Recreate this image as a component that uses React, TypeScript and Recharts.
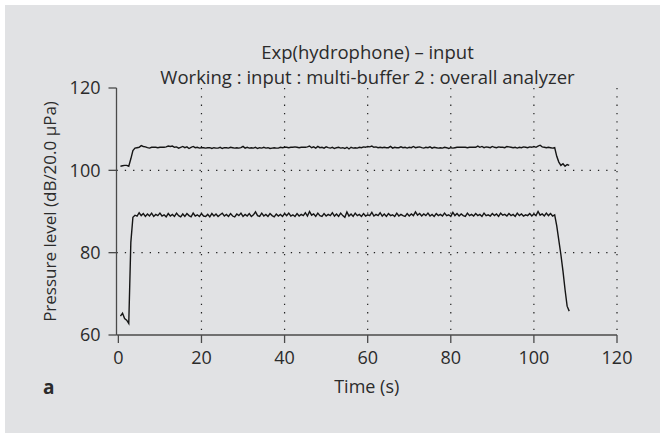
import { LineChart, Line, XAxis, YAxis, CartesianGrid } from 'recharts';

// sampling grid of the analyzer (s)
const SAMPLE_START = 0.5;
const SAMPLE_STEP = 0.5;

// upper trace, dB re 20 µPa
const upperLevels = [
  101.0, 101.1, 101.2, 101.2, 101.0, 102.8, 104.8, 105.4, 105.5, 105.6,
  106.0, 105.8, 105.7, 105.5, 105.4, 105.6, 105.6, 105.6, 105.5, 105.6,
  105.6, 105.6, 105.7, 105.9, 105.8, 105.9, 105.6, 105.7, 105.4, 105.6,
  105.8, 105.5, 105.7, 105.3, 105.6, 105.8, 105.5, 105.6, 105.4, 105.5,
  105.5, 105.4, 105.5, 105.5, 105.3, 105.5, 105.4, 105.4, 105.6, 105.3,
  105.5, 105.5, 105.4, 105.6, 105.5, 105.4, 105.5, 105.4, 105.5, 105.8,
  105.4, 105.6, 105.4, 105.5, 105.4, 105.6, 105.3, 105.5, 105.4, 105.6,
  105.4, 105.5, 105.3, 105.4, 105.5, 105.4, 105.4, 105.6, 105.5, 105.6,
  105.6, 105.5, 105.6, 105.6, 105.7, 105.6, 105.5, 105.6, 105.6, 105.6,
  105.7, 105.9, 105.5, 105.7, 105.4, 105.8, 105.5, 105.6, 105.4, 105.7,
  105.5, 105.4, 105.6, 105.3, 105.5, 105.6, 105.4, 105.5, 105.3, 105.6,
  105.2, 105.6, 105.4, 105.5, 105.4, 105.6, 105.5, 105.7, 105.6, 105.8,
  105.7, 105.9, 105.6, 105.7, 105.5, 105.6, 105.5, 105.6, 105.5, 105.5,
  105.8, 105.4, 105.6, 105.5, 105.5, 105.7, 105.5, 105.6, 105.4, 105.6,
  105.5, 105.8, 105.5, 105.6, 105.7, 105.5, 105.4, 105.6, 105.5, 105.7,
  105.4, 105.6, 105.5, 105.4, 105.5, 105.4, 105.6, 105.5, 105.3, 105.5,
  105.4, 105.5, 105.6, 105.6, 105.6, 105.6, 105.6, 105.5, 105.6, 105.6,
  105.6, 105.6, 105.9, 105.6, 105.8, 105.5, 105.7, 105.6, 105.5, 105.8,
  105.6, 105.5, 105.7, 105.6, 105.6, 105.5, 105.8, 105.7, 105.6, 105.5,
  105.6, 105.4, 105.6, 105.5, 105.7, 105.6, 105.5, 105.7, 105.6, 105.8,
  105.6, 105.9, 106.1, 105.7, 105.6, 105.5, 105.6, 105.5, 105.4, 105.5,
  103.4, 102.0, 101.2, 101.6, 101.0, 101.4, 101.2,
];

// lower trace
const lowerLevels = [
  64.6, 65.3, 64.0, 63.6, 62.8, 82.5, 88.6, 89.1, 88.9, 89.7,
  89.0, 89.5, 88.8, 89.4, 88.9, 89.6, 88.8, 89.3, 89.0, 89.6,
  88.9, 89.2, 88.7, 89.5, 88.9, 89.3, 88.8, 89.6, 89.0, 88.7,
  89.4, 88.8, 89.5, 89.0, 88.7, 89.6, 88.9, 89.2, 88.8, 89.5,
  88.9, 88.8, 89.3, 88.7, 89.5, 88.9, 89.4, 88.8, 89.2, 89.6,
  88.9, 89.3, 88.8, 89.5, 88.9, 88.7, 89.4, 89.0, 89.6, 88.8,
  89.3, 88.9, 89.5, 88.8, 89.2, 89.9, 89.0, 88.8, 89.6, 88.9,
  89.3, 88.8, 89.5, 89.0, 88.7, 89.4, 88.9, 89.3, 88.8, 89.5,
  89.0, 89.6, 88.9, 89.2, 88.8, 89.5, 88.9, 89.3, 89.0, 89.7,
  88.9, 90.0, 89.1, 89.4, 88.8, 89.6, 89.0, 88.8, 89.5, 88.9,
  89.3, 89.0, 89.7, 88.9, 89.4, 88.8, 89.6, 89.0, 88.6, 89.9,
  88.9, 89.4, 88.8, 89.6, 89.0, 89.3, 88.8, 89.5, 88.9, 89.2,
  89.0, 89.8, 88.9, 89.3, 89.0, 89.7, 88.9, 89.4, 88.8, 89.5,
  89.0, 89.2, 88.8, 89.6, 88.9, 89.3, 89.0, 88.8, 89.5, 88.9,
  89.4, 89.0, 89.9, 89.1, 89.5, 88.9, 89.4, 89.0, 89.6, 88.9,
  89.3, 88.8, 89.5, 89.0, 89.3, 88.9, 89.6, 89.0, 89.2, 88.8,
  89.8, 89.0, 89.5, 88.9, 89.4, 89.0, 88.8, 89.6, 89.0, 89.3,
  88.9, 89.5, 89.0, 89.3, 88.8, 89.6, 89.0, 89.2, 88.9, 89.5,
  89.0, 89.4, 88.8, 89.6, 89.1, 89.3, 88.9, 89.5, 89.0, 89.3,
  88.8, 89.6, 89.0, 89.4, 88.9, 89.2, 89.0, 89.5, 88.9, 89.4,
  89.0, 90.0, 89.1, 89.4, 88.9, 89.6, 89.0, 89.5, 88.9, 89.2,
  86.5, 83.0, 79.5, 75.5, 71.0, 67.0, 65.8,
];

const xTicks = [0, 20, 40, 60, 80, 100, 120];
const yTicks = [60, 80, 100, 120];
const xGridValues = [20, 40, 60, 80, 100, 120];
const yGridValues = [80, 100];

const data = upperLevels.map((v, i) => ({
  t: SAMPLE_START + i * SAMPLE_STEP,
  upper: v,
  lower: lowerLevels[i],
}));

const FONT = '"Open Sans", "Noto Sans", sans-serif';
const TEXT = '#2b2b2b';

export default function App() {
  return (
    <div style={{ position: 'absolute', left: 0, top: 0, width: 660, height: 433, background: '#fff', fontFamily: FONT }}>
      <div style={{ position: 'absolute', left: 5, top: 5, width: 655, height: 428, background: '#e1e2e4' }} />
      <div style={{ position: 'absolute', left: 0, top: 39, width: 735, textAlign: 'center', fontSize: 18.5, color: TEXT, lineHeight: '26px' }}>
        Exp(hydrophone) – input
      </div>
      <div style={{ position: 'absolute', left: 0, top: 64, width: 735, textAlign: 'center', fontSize: 18.5, color: TEXT, lineHeight: '26px' }}>
        Working : input : multi-buffer 2 : overall analyzer
      </div>
      <div style={{ position: 'absolute', left: 43, top: 375, fontSize: 19, fontWeight: 700, color: TEXT, lineHeight: '24px' }}>
        a
      </div>
      <div style={{ position: 'absolute', left: 0, top: 0 }}>
        <LineChart width={660} height={433} data={data} margin={{ top: 88, right: 43, bottom: 0, left: 0 }}>
          <CartesianGrid
            horizontalValues={yGridValues}
            verticalValues={xGridValues}
            stroke="#222"
            strokeDasharray="1.3 7"
            strokeWidth={1.2}
          />
          <XAxis
            type="number"
            dataKey="t"
            domain={[-0.45, 120]}
            ticks={xTicks}
            allowDataOverflow
            height={98}
            tickSize={8}
            tickMargin={8}
            stroke="#4a4a4a"
            strokeWidth={1.3}
            tick={{ fill: TEXT, fontSize: 18, fontFamily: FONT }}
            label={{ value: 'Time (s)', position: 'insideBottom', offset: 40, fill: TEXT, fontSize: 18, fontFamily: FONT }}
          />
          <YAxis
            type="number"
            domain={[60, 120]}
            ticks={yTicks}
            width={116.5}
            tickSize={8}
            tickMargin={8}
            stroke="#4a4a4a"
            strokeWidth={1.3}
            tick={{ fill: TEXT, fontSize: 18, fontFamily: FONT }}
            label={{
              value: 'Pressure level (dB/20.0 μPa)',
              angle: -90,
              position: 'insideLeft',
              offset: 50,
              fill: TEXT,
              fontSize: 17,
              fontFamily: FONT,
              style: { textAnchor: 'middle' },
            }}
          />
          <Line type="linear" dataKey="upper" stroke="#151515" strokeWidth={1.4} dot={false} isAnimationActive={false} />
          <Line type="linear" dataKey="lower" stroke="#151515" strokeWidth={1.4} dot={false} isAnimationActive={false} />
        </LineChart>
      </div>
    </div>
  );
}
